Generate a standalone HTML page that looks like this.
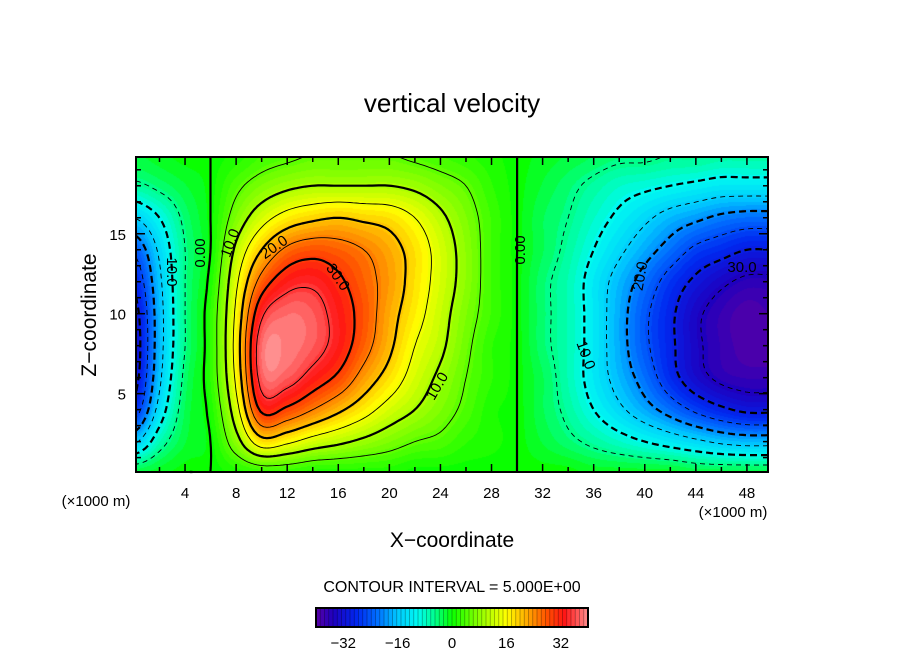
<!DOCTYPE html>
<html><head><meta charset="utf-8"><style>
body{margin:0;background:#fff;width:904px;height:654px;overflow:hidden;font-family:"Liberation Sans",sans-serif}
#wrap{position:relative;width:904px;height:654px}
canvas{position:absolute;left:136px;top:157px}
svg{position:absolute;left:0;top:0}
text{font-family:"Liberation Sans",sans-serif;fill:#000}
</style></head><body>
<div id="wrap">
<canvas id="heat" width="632" height="315"></canvas>
<svg id="svg" width="904" height="654">
<text x="452" y="112" font-size="26" text-anchor="middle">vertical velocity</text>
<text x="452" y="547" font-size="21" text-anchor="middle">X−coordinate</text>
<text transform="translate(96,315) rotate(-90)" font-size="21" text-anchor="middle">Z−coordinate</text>
<text x="96" y="506" font-size="15" text-anchor="middle">(×1000 m)</text>
<text x="733" y="517" font-size="15" text-anchor="middle">(×1000 m)</text>
<text x="452" y="592" font-size="16" text-anchor="middle">CONTOUR INTERVAL = 5.000E+00</text>
<g id="contours"></g>
<g id="clabels" font-size="15"></g>
<g id="axes"></g>
<g id="cbar"></g>
</svg>
</div>
<script>
const xs=[0,2,4,6,8,10,12,14,16,18,20,22,24,26,28,30,32,34,36,38,40,42,44,46,48,50];
const zs=[0,2,4,6,8,10,12,14,16,18,20];
const w_z0 =[-2,-1,0,0,1,2,2,1,1,1,1,0,0,0,0,0,0,0,-1,-1,-1,-1,-2,-2,-2,-2];
const w_z2 =[-16,-7,-2,0,8,18,16,13,11,9,7,5,4,2,1,0,-2,-4,-6,-8,-10,-12,-14,-16,-17,-17];
const w_z4 =[-28,-13,-3,1,13,31,29,25,21,17,13,10,7,4,1,0,-3,-6,-10,-14,-18,-22,-26,-29,-31,-31];
const w_z6 =[-32,-16,-4,2,16,37,37,33,29,23,18,13,9,5,2,0,-3,-7,-12,-17,-22,-28,-33,-36,-37,-37];
const w_z8 =[-33,-17,-5,2,17,38,39,37,33,27,21,15,11,6,2,0,-4,-7,-12,-18,-24,-29,-34,-37,-39,-39];
const w_z10=[-32,-17,-5,2,16,34,38,37,33,28,22,17,12,7,3,0,-4,-7,-12,-18,-24,-29,-34,-37,-39,-38];
const w_z12=[-29,-16,-5,1,14,27,33,34,31,27,23,18,13,8,3,0,-4,-7,-12,-17,-22,-27,-31,-34,-36,-36];
const w_z14=[-24,-14,-5,0,11,20,26,28,27,25,22,18,13,8,3,0,-3,-6,-10,-14,-18,-22,-26,-28,-30,-30];
const w_z16=[-15,-10,-4,0,7,13,17,19,20,19,18,15,11,7,3,0,-3,-5,-8,-11,-14,-17,-19,-21,-22,-22];
const w_z18=[-6,-4,-2,0,4,7,9,10,10,10,10,9,7,5,2,0,-2,-4,-6,-8,-9,-10,-11,-12,-12,-12];
const w_z20=[-2,-1,0,0,1,3,4,5,5,5,5,4,3,2,1,0,-1,-2,-3,-4,-4,-5,-5,-6,-6,-6];
const rows=[w_z0,w_z2,w_z4,w_z6,w_z8,w_z10,w_z12,w_z14,w_z16,w_z18,w_z20];
const xTicks=[4,8,12,16,20,24,28,32,36,40,44,48];
const zTicks=[5,10,15];
const cbTicks=[-32,-16,0,16,32];
const levels=[-35,-30,-25,-20,-15,-10,-5,0,5,10,15,20,25,30,35];

const PL=136,PT=157,PR=768,PB=472,XMIN=0.16,XMAX=49.65,ZMIN=0.1,ZMAX=19.8;
const sx=X=>PL+(X-XMIN)/(XMAX-XMIN)*(PR-PL);
const sy=Z=>PB-(Z-ZMIN)/(ZMAX-ZMIN)*(PB-PT);
const NS='http://www.w3.org/2000/svg';

function cr(p0,p1,p2,p3,t){return 0.5*(2*p1+(-p0+p2)*t+(2*p0-5*p1+4*p2-p3)*t*t+(-p0+3*p1-3*p2+p3)*t*t*t);}
function val(X,Z){
  const gx=X/2,gz=Z/2;const ix=Math.floor(gx),iz=Math.floor(gz);const tx=gx-ix,tz=gz-iz;
  const cx=i=>Math.max(0,Math.min(xs.length-1,i)),cz=i=>Math.max(0,Math.min(zs.length-1,i));
  const r=[];
  for(let k=-1;k<=2;k++){const row=rows[cz(iz+k)];r.push(cr(row[cx(ix-1)],row[cx(ix)],row[cx(ix+1)],row[cx(ix+2)],tx));}
  return cr(r[0],r[1],r[2],r[3],tz);
}
const stops=[[-41,100,0,160],[-35,30,0,190],[-28,0,40,240],[-22,0,110,255],[-16,0,200,255],[-10,0,250,240],[-5,0,255,140],[0,10,255,0],[6,110,255,0],[12,200,255,0],[16,255,255,0],[22,255,170,0],[28,255,80,0],[33,255,20,20],[37,255,90,90],[41,255,160,160]];
function col(v){
  if(v<=stops[0][0])return stops[0].slice(1);
  for(let i=1;i<stops.length;i++){if(v<=stops[i][0]){const a=stops[i-1],b=stops[i],t=(v-a[0])/(b[0]-a[0]);return [0,1,2].map(k=>Math.round(a[k+1]+(b[k+1]-a[k+1])*t));}}
  return stops[stops.length-1].slice(1);
}
const cv=document.getElementById('heat'),ctx=cv.getContext('2d');const W=cv.width,H=cv.height;
const img=ctx.createImageData(W,H);
for(let py=0;py<H;py++){const Z=ZMAX-(py+0.5)/H*(ZMAX-ZMIN);
  for(let px=0;px<W;px++){const X=XMIN+(px+0.5)/W*(XMAX-XMIN);
    let v=val(X,Z);v=Math.round(v/1.25)*1.25;const c=col(v);const o=(py*W+px)*4;
    img.data[o]=c[0];img.data[o+1]=c[1];img.data[o+2]=c[2];img.data[o+3]=255;}}
ctx.putImageData(img,0,0);

const st=0.25;const nx=Math.ceil((XMAX-XMIN)/st)+1,nz=Math.ceil((ZMAX-ZMIN)/st)+1;
const F=[];for(let j=0;j<nz;j++){F.push([]);for(let i=0;i<nx;i++){F[j].push(val(Math.min(XMAX,XMIN+i*st),Math.min(ZMAX,ZMIN+j*st)));}}
const gX=i=>sx(Math.min(XMAX,XMIN+i*st)),gZ=j=>sy(Math.min(ZMAX,ZMIN+j*st));
const cg=document.getElementById('contours');
levels.forEach(L=>{
  const segs=[];
  for(let j=0;j<nz-1;j++)for(let i=0;i<nx-1;i++){
    const a=F[j][i],b=F[j][i+1],c=F[j+1][i+1],e=F[j+1][i];
    const pts=[];
    const ed=(v1,v2,x1,y1,x2,y2,key)=>{if((v1<L)!==(v2<L)){const t=(L-v1)/(v2-v1);pts.push([x1+(x2-x1)*t,y1+(y2-y1)*t,key]);}};
    ed(a,b,gX(i),gZ(j),gX(i+1),gZ(j),'h'+i+'_'+j);
    ed(b,c,gX(i+1),gZ(j),gX(i+1),gZ(j+1),'v'+(i+1)+'_'+j);
    ed(c,e,gX(i+1),gZ(j+1),gX(i),gZ(j+1),'h'+i+'_'+(j+1));
    ed(e,a,gX(i),gZ(j+1),gX(i),gZ(j),'v'+i+'_'+j);
    for(let k=0;k+1<pts.length;k+=2)segs.push([pts[k],pts[k+1]]);
  }
  // chain segments
  const adj={};segs.forEach((s,idx)=>{[0,1].forEach(e=>{const k=s[e][2];(adj[k]=adj[k]||[]).push(idx);});});
  const used=new Array(segs.length).fill(false);let d='';
  const other=(s,k)=>s[0][2]===k?s[1]:s[0];
  function walk(startIdx,fromKey){const out=[];let idx=startIdx,key=fromKey;
    while(idx!==undefined&&!used[idx]){used[idx]=true;const p=other(segs[idx],key);out.push(p);key=p[2];idx=(adj[key]||[]).find(q=>!used[q]);}
    return out;}
  for(let s=0;s<segs.length;s++){if(used[s])continue;
    used[s]=true;const A=segs[s][0],B=segs[s][1];
    const fw=[];let key=B[2],idx=(adj[key]||[]).find(q=>!used[q]);if(idx!==undefined)fw.push(...walk(idx,key));
    const bw=[];key=A[2];idx=(adj[key]||[]).find(q=>!used[q]);if(idx!==undefined)bw.push(...walk(idx,key));
    const line=bw.reverse().concat([A,B],fw);
    d+='M'+line.map(p=>p[0].toFixed(1)+' '+p[1].toFixed(1)).join('L');
  }
  if(!d)return;
  const p=document.createElementNS(NS,'path');
  
  
  p.setAttribute('d',d);p.setAttribute('fill','none');p.setAttribute('stroke','#000');
  p.setAttribute('stroke-width',L%10===0?2.2:0.9);p.setAttribute('stroke-linejoin','round');
  if(L<0)p.setAttribute('stroke-dasharray',L%10===0?'7 4':'5 4');
  cg.appendChild(p);
});
const cl=[["0.00",200,253,-90],["10.0",172,272,90],["10.0",230,243,-70],["20.0",274,247,-35],["30.0",338,277,55],["10.0",437,386,-60],["0.00",520,250,-90],["20.0",640,276,-80],["10.0",586,355,70],["30.0",742,267,0]];
const lg=document.getElementById('clabels');
cl.forEach(c=>{const t=document.createElementNS(NS,'text');
  
  
  t.setAttribute('transform','translate('+c[1]+','+c[2]+') rotate('+c[3]+')');t.setAttribute('text-anchor','middle');t.setAttribute('dy','5');t.textContent=c[0];lg.appendChild(t);});
const ax=document.getElementById('axes');
function line(x1,y1,x2,y2,w,name){const l=document.createElementNS(NS,'line');
  
  
  l.setAttribute('x1',x1);l.setAttribute('y1',y1);l.setAttribute('x2',x2);l.setAttribute('y2',y2);l.setAttribute('stroke','#000');l.setAttribute('stroke-width',w);ax.appendChild(l);}
const fr=document.createElementNS(NS,'rect');


fr.setAttribute('x',PL);fr.setAttribute('y',PT);fr.setAttribute('width',PR-PL);fr.setAttribute('height',PB-PT);fr.setAttribute('fill','none');fr.setAttribute('stroke','#000');fr.setAttribute('stroke-width',2);ax.appendChild(fr);
for(let X=2;X<=48;X+=2){const big=X%4===0?8:5;line(sx(X),PB,sx(X),PB-big,1.5,'x-tick');line(sx(X),PT,sx(X),PT+big,1.5,'x-tick-top');}
for(let Z=1;Z<=19;Z++){const big=Z%5===0?9:5;line(PL,sy(Z),PL+big,sy(Z),1.5,'z-tick');line(PR,sy(Z),PR-big,sy(Z),1.5,'z-tick-right');}
xTicks.forEach(X=>{const t=document.createElementNS(NS,'text');
  
  
  t.setAttribute('x',sx(X));t.setAttribute('y',498);t.setAttribute('font-size','15');t.setAttribute('text-anchor','middle');t.textContent=X;ax.appendChild(t);});
zTicks.forEach(Z=>{const t=document.createElementNS(NS,'text');
  
  
  t.setAttribute('x',126);t.setAttribute('y',sy(Z)+6);t.setAttribute('font-size','15');t.setAttribute('text-anchor','end');t.textContent=Z;ax.appendChild(t);});
const cb=document.getElementById('cbar');const CL=316,CR=588,CT=608,CB=627;const cbx=v=>CL+(v+40)/80*(CR-CL);
for(let v=-40;v<40;v+=1.25){const r=document.createElementNS(NS,'rect');
  
  
  const c=col(v+0.6);r.setAttribute('x',cbx(v));r.setAttribute('y',CT);r.setAttribute('width',(CR-CL)/64+0.3);r.setAttribute('height',CB-CT);r.setAttribute('fill','rgb('+c+')');cb.appendChild(r);
  const s=document.createElementNS(NS,'line');
  
  
  s.setAttribute('x1',cbx(v));s.setAttribute('x2',cbx(v));s.setAttribute('y1',CT);s.setAttribute('y2',CB);s.setAttribute('stroke','rgba(0,0,0,0.35)');s.setAttribute('stroke-width',0.8);cb.appendChild(s);}
const cf=document.createElementNS(NS,'rect');


cf.setAttribute('x',CL);cf.setAttribute('y',CT);cf.setAttribute('width',CR-CL);cf.setAttribute('height',CB-CT);cf.setAttribute('fill','none');cf.setAttribute('stroke','#000');cf.setAttribute('stroke-width',2);cb.appendChild(cf);
cbTicks.forEach(v=>{const t=document.createElementNS(NS,'text');
  
  
  t.setAttribute('x',cbx(v));t.setAttribute('y',648);t.setAttribute('font-size','15');t.setAttribute('text-anchor','middle');t.textContent=v<0?'−'+(-v):v;cb.appendChild(t);});
</script>
</body></html>
